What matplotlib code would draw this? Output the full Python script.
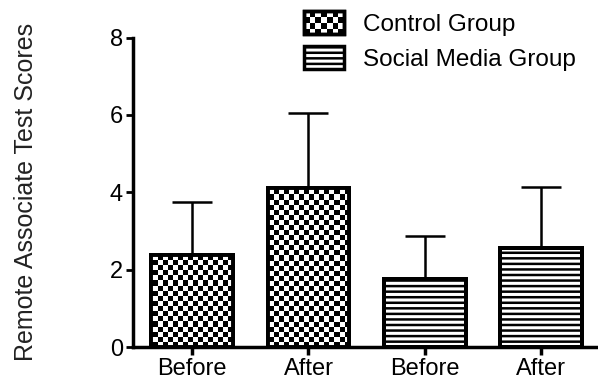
import numpy as np
import matplotlib.pyplot as plt
from matplotlib.patches import Rectangle
from matplotlib.legend_handler import HandlerBase

plt.rcParams['font.family'] = ['Liberation Sans', 'DejaVu Sans']
plt.rcParams['hatch.linewidth'] = 1.8

# data
labels = ['Before', 'After', 'Before', 'After']
groups = ['Control Group', 'Control Group', 'Social Media Group', 'Social Media Group']
means = [2.38, 4.10, 1.76, 2.56]
errors = [1.38, 1.96, 1.10, 1.58]


class CheckerHandler(HandlerBase):
    # legend box with a small checkerboard inside
    def create_artists(self, legend, orig_handle, xdescent, ydescent,
                       width, height, fontsize, trans):
        x0, y0 = -xdescent, -ydescent
        arts = [Rectangle((x0, y0), width, height, facecolor='white',
                          edgecolor='black', lw=2.5, transform=trans)]
        nx, ny = 7, 4
        cw, ch = width / nx, height / ny
        for i in range(nx):
            for j in range(ny):
                if (i + j) % 2 == 0:
                    arts.append(Rectangle((x0 + i * cw, y0 + j * ch), cw, ch,
                                          facecolor='black', lw=0, transform=trans))
        arts.append(Rectangle((x0, y0), width, height, facecolor='none',
                              edgecolor='black', lw=2.5, transform=trans))
        return arts


fig = plt.figure(figsize=(5.98, 3.87), dpi=100)
ax = fig.add_axes([0.222, 0.103, 0.79, 0.8])

x = np.arange(len(means))
ylo, yhi = 0, 8
xlo, xhi = -0.51, 3.55

# error bars (upper only)
ax.errorbar(x, means, yerr=[np.zeros(len(errors)), errors], fmt='none',
            ecolor='black', elinewidth=1.8, capsize=14.5, capthick=1.8, zorder=1)

bars = ax.bar(x, means, width=0.7, color='white', edgecolor='black',
              linewidth=2.8, zorder=2)

# checkerboard fill for control bars
cell_px = 5.0
ax_w_px = 0.79 * 598
ax_h_px = 0.8 * 387
nx = int(ax_w_px / cell_px)
ny = int(ax_h_px / cell_px)
checker = (np.indices((ny, nx)).sum(axis=0) % 2).astype(float)
for b, g in zip(bars, groups):
    if g == 'Control Group':
        im = ax.imshow(checker, extent=(xlo, xhi, ylo, yhi), cmap='gray',
                       interpolation='nearest', aspect='auto', origin='lower',
                       zorder=2.5)
        im.set_clip_path(b)
    else:
        b.set_hatch('---')

# redraw edges on top
ax.bar(x, means, width=0.7, color='none', edgecolor='black',
       linewidth=2.8, zorder=3)

ax.set_xlim(xlo, xhi)
ax.set_ylim(ylo, yhi)
ax.set_xticks(x)
ax.set_xticklabels(labels, fontsize=17)
ax.set_yticks([0, 2, 4, 6, 8])
ax.tick_params(axis='y', labelsize=17, width=2, length=5, pad=2)
ax.tick_params(axis='x', width=2.5, length=6, pad=2)
for s in ['top', 'right']:
    ax.spines[s].set_visible(False)
ax.spines['left'].set_linewidth(2.5)
ax.spines['bottom'].set_linewidth(2.5)
ax.spines['left'].set_bounds(0, 8)
ax.set_ylabel('Remote Associate Test Scores', fontsize=18, color='#222222')
ax.yaxis.set_label_coords(-0.20, 0.5)

ctrl = Rectangle((0, 0), 1, 1, facecolor='white', edgecolor='black')
soc = Rectangle((0, 0), 1, 1, facecolor='white', edgecolor='black', hatch='---', lw=2.5)
fig.legend([ctrl, soc], ['Control Group', 'Social Media Group'],
           handler_map={ctrl: CheckerHandler()},
           loc='upper left', bbox_to_anchor=(0.4716, 1.028), frameon=False,
           fontsize=17.5, handlelength=1.65, handleheight=1.1, labelspacing=0.4,
           handletextpad=0.8)

fig.savefig('out.png', dpi=100)
